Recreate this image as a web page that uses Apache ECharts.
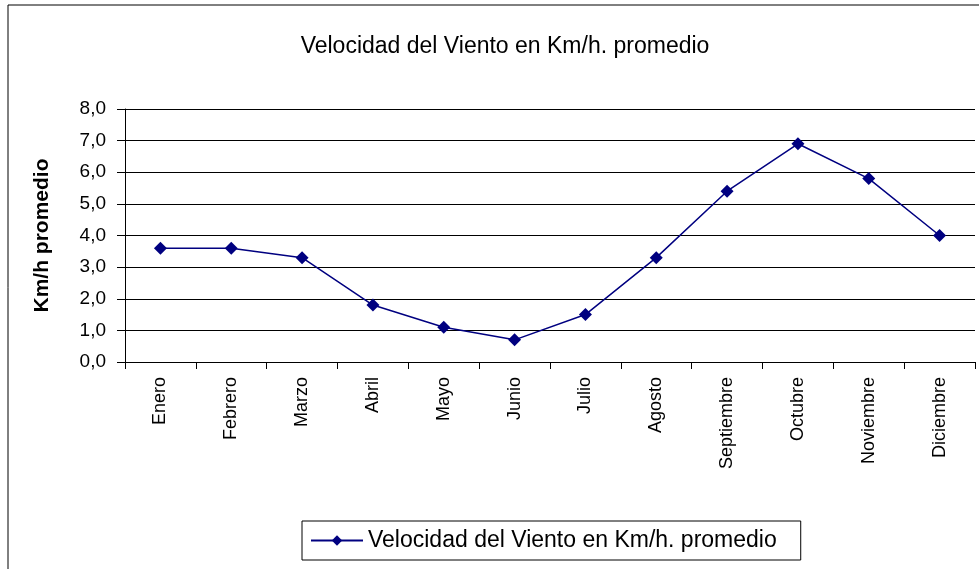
<!DOCTYPE html>
<html lang="es">
<head>
    <meta charset="UTF-8">
    <title>Velocidad del Viento</title>
    <script src="https://cdn.jsdelivr.net/npm/echarts@6/dist/echarts.min.js"></script>
    <style>
        html, body { margin: 0; padding: 0; background: #fff; }
    </style>
</head>
<body>
    <div id="main" style="width: 979px; height: 569px;"></div>
    <script>
        // datos
        const meses = ['Enero', 'Febrero', 'Marzo', 'Abril', 'Mayo', 'Junio', 'Julio',
            'Agosto', 'Septiembre', 'Octubre', 'Noviembre', 'Diciembre'];
        const velocidad = [3.6, 3.6, 3.3, 1.8, 1.1, 0.7, 1.5, 3.3, 5.4, 6.9, 5.8, 4.0];
        const serieNombre = 'Velocidad del Viento en Km/h. promedio';

        const fuente = 'Liberation Sans, Arial, sans-serif';
        var myChart = echarts.init(document.getElementById('main'));
        const option = {
            animation: false,
            backgroundColor: '#fff',
            textStyle: { fontFamily: fuente },
            graphic: [{
                type: 'rect',
                shape: { x: 8, y: 5, width: 1000, height: 600 },
                style: { fill: 'none', stroke: '#000', lineWidth: 1 },
                z: -1
            }],
            title: {
                text: serieNombre,
                left: 500,
                top: 30,
                textAlign: 'center',
                textStyle: { fontFamily: fuente, fontSize: 23, fontWeight: 'normal', color: '#000' }
            },
            legend: {
                data: [serieNombre],
                left: 302,
                top: 521,
                padding: [8, 24, 8, 8],
                borderColor: '#000',
                borderWidth: 1,
                itemWidth: 52,
                itemHeight: 13,
                itemGap: 6,
                textStyle: { fontFamily: fuente, fontSize: 23, color: '#000' }
            },
            grid: { left: 125, right: 4, top: 109, bottom: 207 },
            xAxis: {
                type: 'category',
                data: meses,
                boundaryGap: true,
                axisLine: { lineStyle: { color: '#000', width: 1 } },
                axisTick: { show: true, length: 7, lineStyle: { color: '#000' } },
                axisLabel: {
                    rotate: 90,
                    margin: 15,
                    fontFamily: fuente,
                    fontSize: 18,
                    color: '#000'
                },
                splitLine: { show: false }
            },
            yAxis: {
                type: 'value',
                min: 0,
                max: 8,
                interval: 1,
                name: 'Km/h promedio',
                nameLocation: 'middle',
                nameGap: 72,
                nameTextStyle: { fontFamily: fuente, fontSize: 21, fontWeight: 'bold', color: '#000' },
                axisLine: { show: true, lineStyle: { color: '#000', width: 1 } },
                axisTick: { show: true, length: 8, lineStyle: { color: '#000' } },
                axisLabel: {
                    margin: 19,
                    fontFamily: fuente,
                    fontSize: 19,
                    color: '#000',
                    formatter: function (v) { return v.toFixed(1).replace('.', ','); }
                },
                splitLine: { show: true, lineStyle: { color: '#000', width: 1 } }
            },
            series: [{
                name: serieNombre,
                type: 'line',
                data: velocidad,
                symbol: 'diamond',
                symbolSize: 13,
                showAllSymbol: true,
                itemStyle: { color: '#000080' },
                lineStyle: { color: '#000080', width: 1.5 }
            }]
        };
        myChart.setOption(option);
    </script>
</body>
</html>
